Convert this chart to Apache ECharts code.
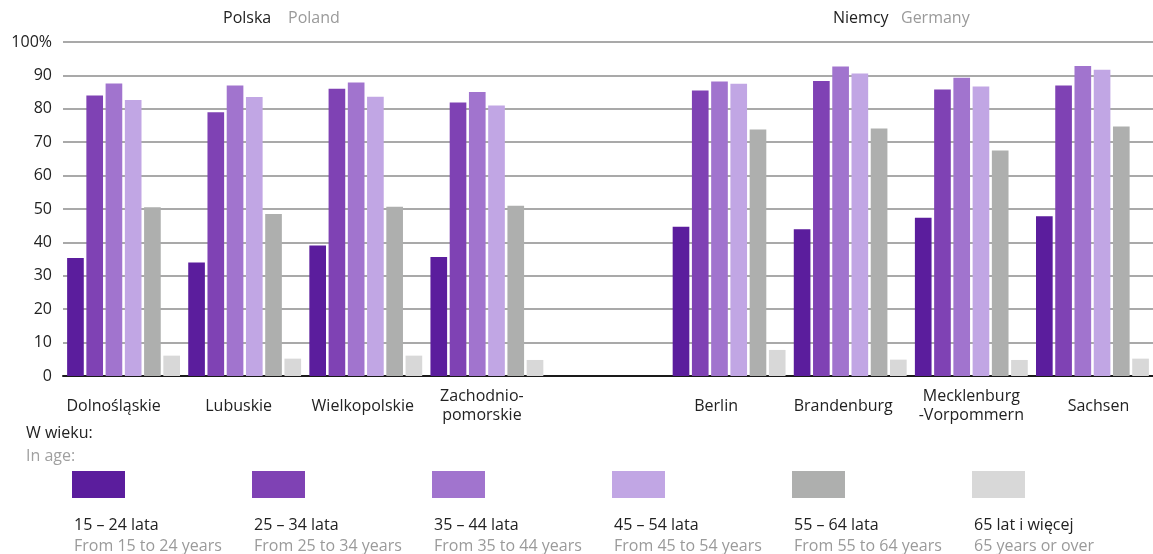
<!DOCTYPE html>
<html>
<head>
<meta charset="utf-8">
<script src="https://cdn.jsdelivr.net/npm/echarts@6/dist/echarts.min.js"></script>
<style>
  html, body { margin: 0; padding: 0; background: #fff; }
  #chart { width: 1153px; height: 554px; }
</style>
</head>
<body>
<div id="chart"></div>
<script>
var categories = ['Dolnośląskie', 'Lubuskie', 'Wielkopolskie', 'Zachodnio-\npomorskie', '', 'Berlin', 'Brandenburg', 'Mecklenburg\n-Vorpommern', 'Sachsen'];
var seriesNames = ['15 – 24 lata', '25 – 34 lata', '35 – 44 lata', '45 – 54 lata', '55 – 64 lata', '65 lat i więcej'];
var seriesNamesEn = ['From 15 to 24 years', 'From 25 to 34 years', 'From 35 to 44 years', 'From 45 to 54 years', 'From 55 to 64 years', '65 years or over'];
var age15_24 = [35.3, 34.0, 39.1, 35.6, null, 44.7, 43.9, 47.4, 47.8];
var age25_34 = [84.0, 79.0, 86.0, 81.9, null, 85.5, 88.3, 85.8, 87.0];
var age35_44 = [87.6, 87.0, 87.9, 85.0, null, 88.2, 92.7, 89.3, 92.8];
var age45_54 = [82.6, 83.5, 83.6, 81.0, null, 87.5, 90.6, 86.7, 91.7];
var age55_64 = [50.5, 48.5, 50.7, 51.0, null, 73.8, 74.1, 67.5, 74.7];
var age65plus = [6.1, 5.2, 6.1, 4.8, null, 7.8, 4.9, 4.8, 5.2];
var groupTitles = [['Polska', 'Poland'], ['Niemcy', 'Germany']];
var legendTitle = ['W wieku:', 'In age:'];

var seriesData = [age15_24, age25_34, age35_44, age45_54, age55_64, age65plus];
var colors = ['#5b1d9d', '#7f42b4', '#a174ce', '#c1a6e4', '#aeafae', '#d8d8d8'];
var FONT = "'Open Sans', sans-serif";

// small horizontal nudges of the category labels (px)
var labelShift = [-10, -6, -3, -5, 0, -13, -7, 0, 6];
var rich = {};
labelShift.forEach(function (dx, i) {
  rich['o' + i] = {
    fontFamily: FONT, fontSize: 16, color: '#222', lineHeight: 19,
    padding: dx < 0 ? [0, -2 * dx, 0, 0] : [0, 0, 0, 2 * dx]
  };
});

var series = seriesData.map(function (d, i) {
  return {
    name: seriesNames[i],
    type: 'bar',
    data: d,
    barGap: '15.5%',
    barCategoryGap: '6.8%',
    itemStyle: { color: colors[i] },
    emphasis: { disabled: true },
    animation: false
  };
});

var legendX = [72, 252, 432, 612, 792, 972];
var legends = seriesNames.map(function (n, i) {
  return {
    data: [n],
    left: legendX[i],
    top: 471,
    icon: 'rect',
    itemWidth: 53,
    itemHeight: 27,
    padding: 0,
    selectedMode: false,
    formatter: function () { return ''; },
    textStyle: { fontSize: 1 }
  };
});

var graphics = [];
function txt(text, x, y, color) {
  graphics.push({
    type: 'text', x: x, y: y, silent: true,
    style: { text: text, fill: color, fontFamily: FONT, fontSize: 16, verticalAlign: 'middle', align: 'left' }
  });
}
txt(groupTitles[0][0], 223, 18, '#222');
txt(groupTitles[0][1], 288, 18, '#9a9a9a');
txt(groupTitles[1][0], 833, 18, '#222');
txt(groupTitles[1][1], 901, 18, '#9a9a9a');
txt(legendTitle[0], 26, 433, '#222');
txt(legendTitle[1], 26, 456, '#a0a0a0');
seriesNames.forEach(function (n, i) {
  txt(n, legendX[i] + 2, 525, '#222');
  txt(seriesNamesEn[i], legendX[i] + 2, 546, '#9a9a9a');
});

var chart = echarts.init(document.getElementById('chart'), null, { renderer: 'canvas' });
chart.setOption({
  animation: false,
  backgroundColor: '#fff',
  grid: { left: 63, right: -2, top: 42, bottom: 178, containLabel: false },
  legend: legends,
  xAxis: {
    type: 'category',
    data: categories,
    axisLine: { show: true, lineStyle: { color: '#1a1a1a', width: 2 } },
    axisTick: { show: false },
    axisLabel: {
      interval: 0,
      margin: 30,
      verticalAlign: 'middle',
      fontFamily: FONT, fontSize: 16, color: '#222', lineHeight: 19,
      formatter: function (v, i) {
        if (!v) return '';
        return v.split('\n').map(function (l) { return '{o' + i + '|' + l + '}'; }).join('\n');
      },
      rich: rich
    }
  },
  yAxis: {
    type: 'value',
    min: 0, max: 100, interval: 10,
    axisLine: { show: false },
    axisTick: { show: false },
    splitLine: { show: true, lineStyle: { color: '#8c8c8c', width: 1.5 } },
    axisLabel: {
      margin: 11,
      fontFamily: FONT, fontSize: 16, color: '#222',
      formatter: function (v) { return v === 100 ? '100%' : String(v); }
    }
  },
  series: series,
  graphic: graphics
});
</script>
</body>
</html>
